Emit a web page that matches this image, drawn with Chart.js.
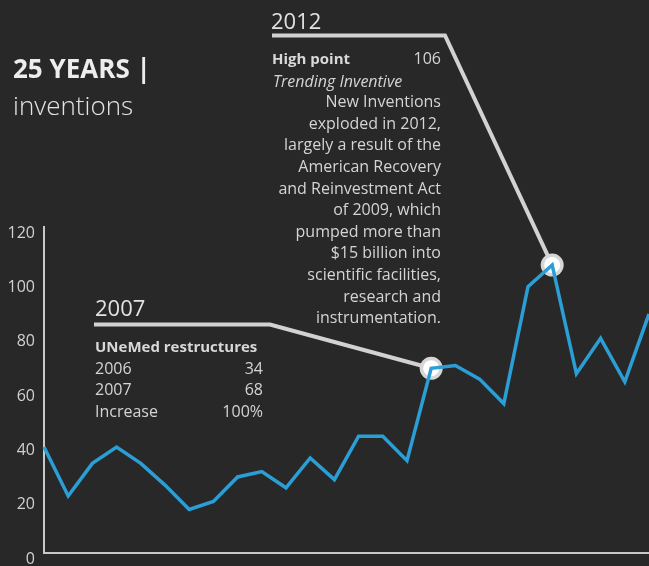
<!DOCTYPE html>
<html>
<head>
<meta charset="utf-8">
<title>25 years | inventions</title>
<script src="https://cdn.jsdelivr.net/npm/chart.js@4.4.1/dist/chart.umd.min.js"></script>
<style>
  html, body { margin: 0; padding: 0; background: #282828; overflow: hidden; }
  #stage { position: relative; width: 649px; height: 566px; font-family: 'Open Sans', sans-serif; color: #d4d4d4; }
  #stage canvas { position: absolute; left: 0; top: 0; }
  .txt { position: absolute; white-space: nowrap; line-height: 1; }
  .title { left: 13px; top: 55px; font-size: 26px; font-weight: 700; color: #ededed; }
  .subtitle { left: 13px; top: 92px; font-size: 26px; font-weight: 300; color: #e4e4e4; }
  .year { font-size: 22px; color: #e2e2e2; }
  .head { font-size: 15px; font-weight: 700; color: #d8d8d8; }
  .body { font-size: 16px; }
  .para { right: 208px; top: 91.3px; line-height: 21.6px; text-align: right; }
  .rows { left: 95px; top: 358px; width: 168px; font-size: 16px; line-height: 21.3px; }
  .rows div { display: flex; justify-content: space-between; }
</style>
</head>
<body>
<div id="stage">
  <canvas id="chart" width="649" height="566"></canvas>

  <div class="txt title">25 YEARS |</div>
  <div class="txt subtitle">inventions</div>

  <!-- 2012 callout -->
  <div class="txt year" style="left:271px; top:8.8px;">2012</div>
  <div class="txt head" style="left:272px; top:50.7px;">High point</div>
  <div class="txt body" style="right:208px; top:49.8px;">106</div>
  <div class="txt body" style="left:273px; top:72.5px; font-style:italic;">Trending Inventive</div>
  <div class="txt body para">New Inventions<br>exploded in 2012,<br>largely a result of the<br>American Recovery<br>and Reinvestment Act<br>of 2009, which<br>pumped more than<br>$15 billion into<br>scientific facilities,<br>research and<br>instrumentation.</div>

  <!-- 2007 callout -->
  <div class="txt year" style="left:95px; top:296.2px;">2007</div>
  <div class="txt head" style="left:95px; top:339px;">UNeMed restructures</div>
  <div class="txt rows">
    <div><span>2006</span><span>34</span></div>
    <div><span>2007</span><span>68</span></div>
    <div><span>Increase</span><span>100%</span></div>
  </div>
</div>

<script>
// inventions per year
const years = ['1991', '1992', '1993', '1994', '1995', '1996', '1997', '1998', '1999', '2000',
  '2001', '2002', '2003', '2004', '2005', '2006', '2007', '2008', '2009', '2010',
  '2011', '2012', '2013', '2014', '2015', '2016'];
const inventions = [39, 21, 33, 39, 33, 25, 16, 19, 28, 30,
  24, 35, 27, 43, 43, 34, 68, 69, 64, 55,
  98, 106, 66, 79, 63, 88];
const yTicks = [0, 20, 40, 60, 80, 100, 120];
const highlightYears = ['2007', '2012'];

// where each callout's underline starts and bends toward its point
const calloutPaths = {
  '2007': { start: [94, 324.5], elbow: [270, 324.5] },
  '2012': { start: [272, 35.5], elbow: [445, 35.5] },
};

Chart.defaults.font.family = "'Open Sans', sans-serif";

// leader lines + ringed markers, drawn under the data line
const calloutPlugin = {
  id: 'callouts',
  beforeDatasetsDraw(chart) {
    const ctx = chart.ctx;
    const meta = chart.getDatasetMeta(0);
    highlightYears.forEach((yr) => {
      const pt = meta.data[years.indexOf(yr)];
      const path = calloutPaths[yr];
      ctx.save();
      ctx.strokeStyle = '#d2d2d2';
      ctx.lineWidth = 4;
      ctx.lineJoin = 'miter';
      ctx.beginPath();
      ctx.moveTo(path.start[0], path.start[1]);
      ctx.lineTo(path.elbow[0], path.elbow[1]);
      ctx.lineTo(pt.x, pt.y);
      ctx.stroke();

      ctx.fillStyle = '#d6d6d6';
      ctx.beginPath();
      ctx.arc(pt.x, pt.y, 11.5, 0, Math.PI * 2);
      ctx.fill();
      ctx.fillStyle = '#ffffff';
      ctx.beginPath();
      ctx.arc(pt.x, pt.y, 8, 0, Math.PI * 2);
      ctx.fill();
      ctx.restore();
    });
  },
};

new Chart(document.getElementById('chart'), {
  type: 'line',
  data: {
    labels: years,
    datasets: [{
      label: 'Inventions',
      data: inventions,
      borderColor: '#2b9fd5',
      borderWidth: 3.5,
      pointRadius: 0,
      tension: 0,
      fill: false,
    }],
  },
  options: {
    responsive: false,
    animation: false,
    devicePixelRatio: 1,
    layout: { padding: { top: 227, bottom: 13, left: 0, right: 0 } },
    plugins: {
      legend: { display: false },
      tooltip: { enabled: false },
    },
    scales: {
      x: {
        offset: false,
        afterFit: (scale) => { scale.height = 0; },
        grid: { display: false, drawTicks: false },
        border: { display: true, color: '#c8c8c8', width: 2 },
        ticks: { display: false },
      },
      y: {
        min: 0,
        max: 120,
        afterFit: (scale) => {
          scale.width = 44;
          // labels may hang past the plot edges
          scale.paddingTop = 0;
          scale.paddingBottom = 0;
        },
        afterBuildTicks: (scale) => { scale.ticks = yTicks.map((v) => ({ value: v })); },
        grid: { display: false, drawTicks: false },
        border: { display: true, color: '#c8c8c8', width: 2 },
        ticks: {
          color: '#d0d0d0',
          font: { size: 16 },
          padding: 9,
          labelOffset: 6,
        },
      },
    },
  },
  plugins: [calloutPlugin],
});
</script>
</body>
</html>
